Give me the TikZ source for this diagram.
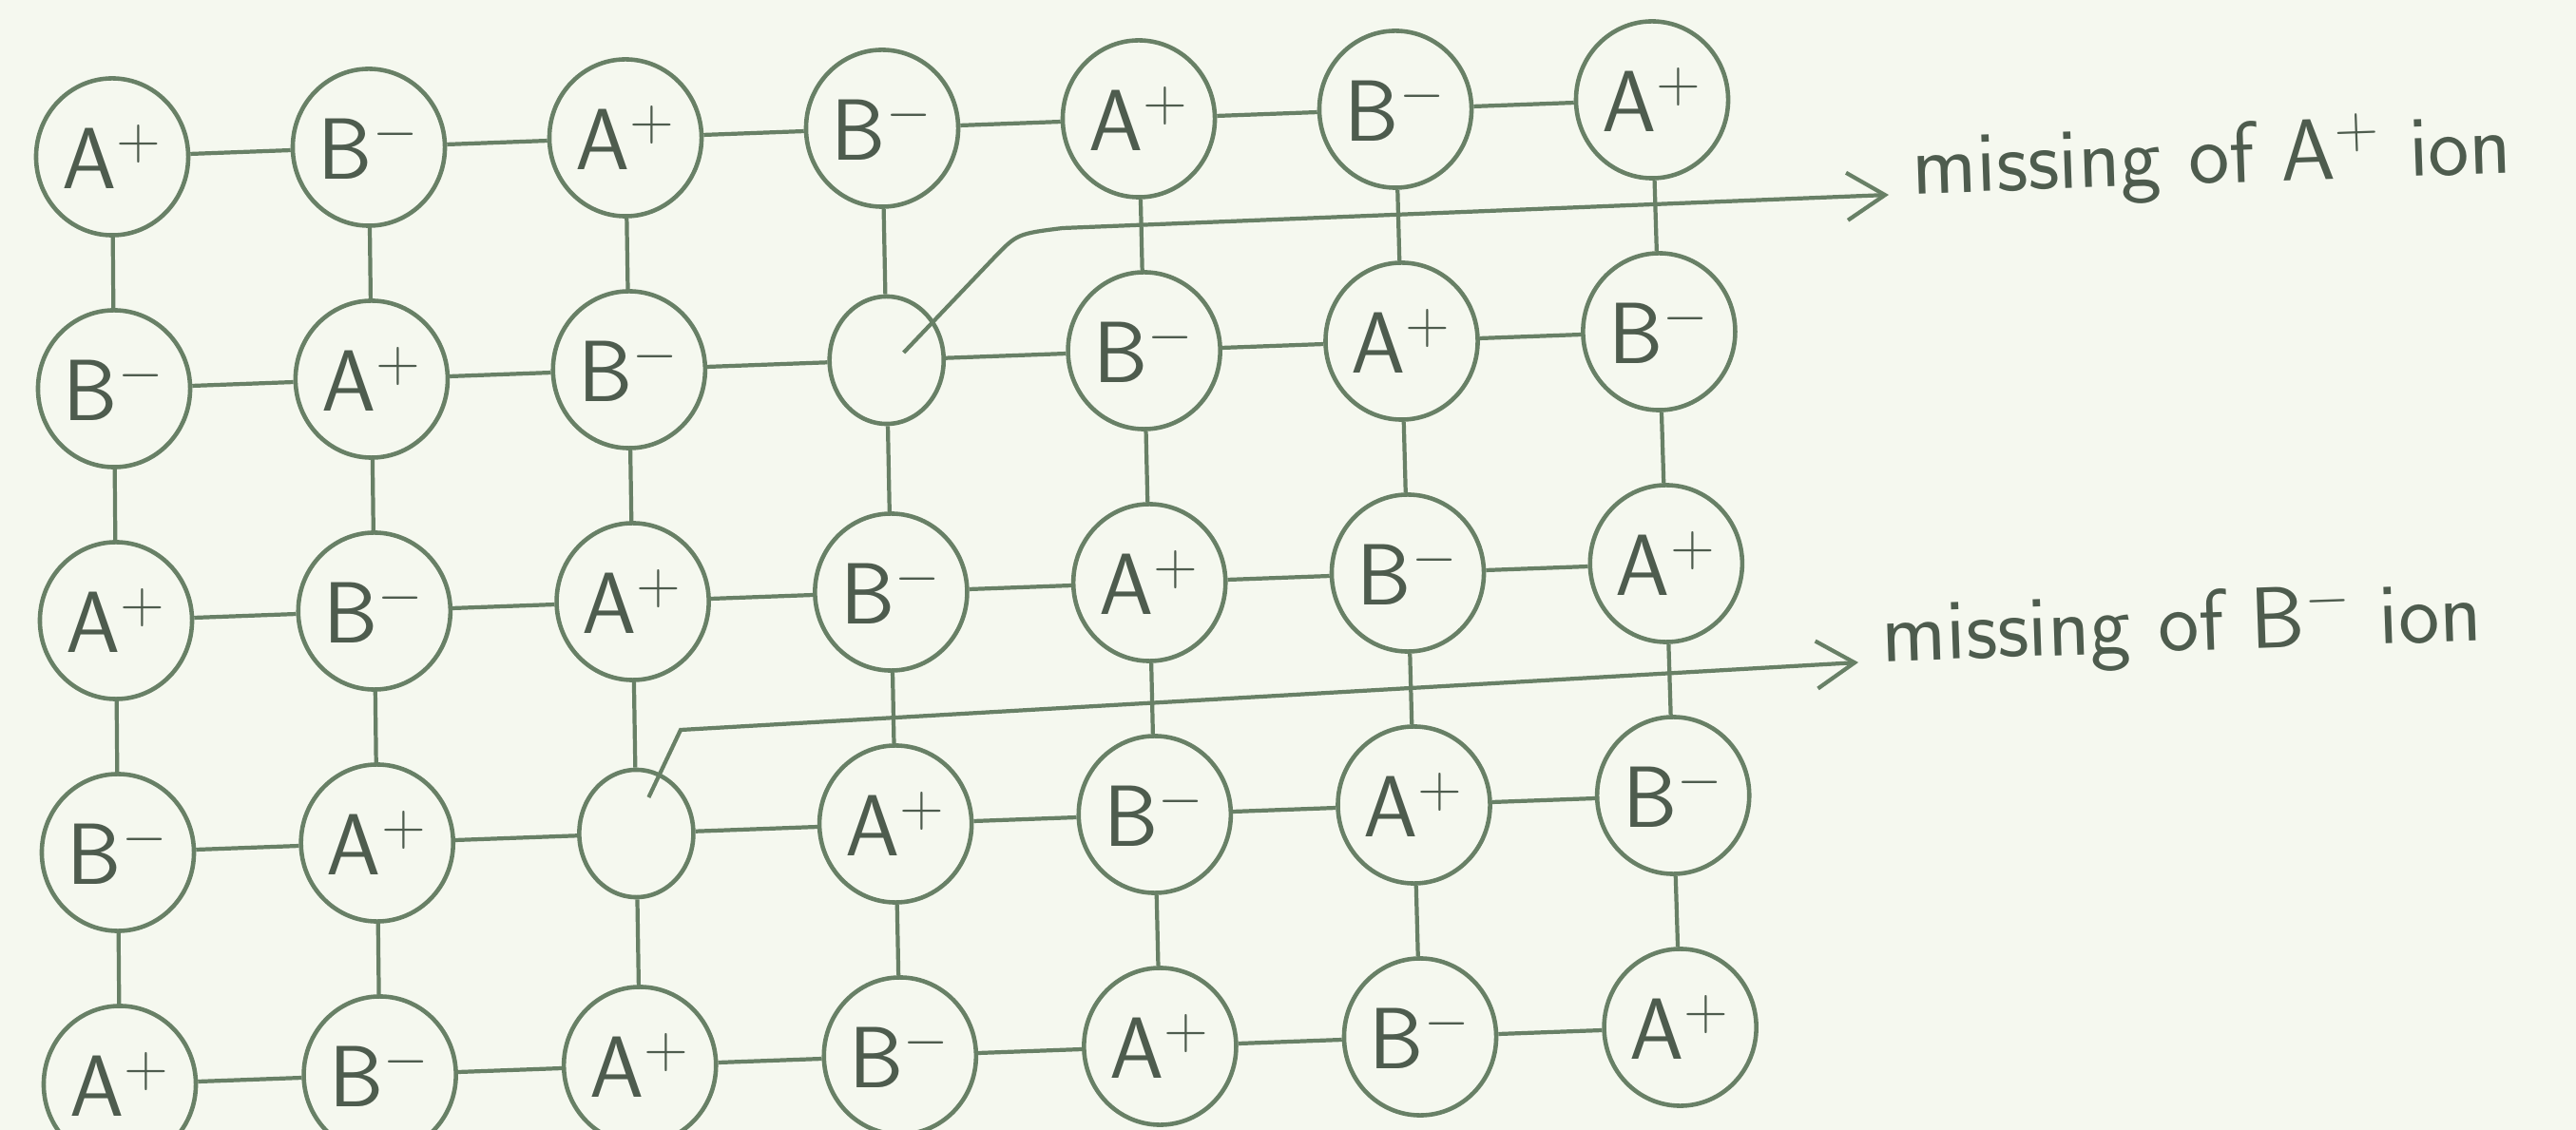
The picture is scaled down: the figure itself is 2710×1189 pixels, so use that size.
\documentclass[tikz,border=0pt]{standalone}
\usetikzlibrary{shapes.geometric,arrows.meta}
\definecolor{paper}{RGB}{245,248,239}
\definecolor{pencil}{RGB}{104,128,102}
\definecolor{ink}{RGB}{78,92,78}
\tikzset{
  ion/.style={ellipse,draw=pencil,line width=1.3pt,minimum width=1.6cm,
    minimum height=1.65cm,inner sep=0pt,text=ink,
    font=\sffamily\fontsize{26}{30}\selectfont},
  hole/.style={ion,minimum width=1.2cm,minimum height=1.34cm},
  bond/.style={draw=pencil,line width=1.2pt},
  arr/.style={bond,-{Straight Barb[length=4mm,width=5mm]}},
  note/.style={anchor=base west,inner xsep=0.25cm,text=ink,rotate=2,
    font=\sffamily\fontsize{26}{30}\selectfont},
}
\begin{document}
\begin{tikzpicture}[x=0.01cm,y=-0.01cm]
  \fill[paper] (0,0) rectangle (2710,1189);
  \useasboundingbox (0,0) rectangle (2710,1189);
  % rede de ions, duas lacunas
  \foreach \r in {0,...,4} {
    \foreach \c in {0,...,6} {
      \pgfmathsetmacro{\px}{118+270*\c+2*\r+0.9*\r*\c}
      \pgfmathsetmacro{\py}{165+244*\r-10*\c}
      \pgfmathtruncatemacro{\vaz}{or(and(\r==1,\c==3),and(\r==3,\c==2))}
      \pgfmathtruncatemacro{\sinal}{mod(\r+\c,2)}
      \ifnum\vaz=1
        \node[hole] (n-\r-\c) at (\px,\py) {};
      \else\ifnum\sinal=0
        \node[ion] (n-\r-\c) at (\px,\py) {A\textsuperscript{+}};
      \else
        \node[ion] (n-\r-\c) at (\px,\py) {B\textsuperscript{$-$}};
      \fi\fi
    }
  }
  % ligacoes nas linhas
  \foreach \r in {0,...,4} {
    \foreach \c in {0,...,5} {
      \pgfmathtruncatemacro{\cc}{\c+1}
      \draw[bond] (n-\r-\c) -- (n-\r-\cc);
    }
  }
  % ligacoes nas colunas
  \foreach \r in {0,...,3} {
    \foreach \c in {0,...,6} {
      \pgfmathtruncatemacro{\rr}{\r+1}
      \draw[bond] (n-\r-\c) -- (n-\rr-\c);
    }
  }
  % lacuna de A+
  \coordinate (s1) at ([shift={(18,-8)}]n-1-3.center);
  \coordinate (k1) at (1045,272);
  \coordinate (k2) at (1118,240);
  \node[note] (lblA) at (1987,205) {missing of A\textsuperscript{+} ion};
  \draw[arr] (s1) -- (k1) .. controls (1070,246) .. (k2) -- (lblA.base west);
  % lacuna de B-
  \coordinate (s2) at ([shift={(13,-38)}]n-3-2.center);
  \coordinate (k3) at (716,768);
  \node[note] (lblB) at (1955,697) {missing of B\textsuperscript{$-$} ion};
  \draw[arr] (s2) -- (k3) -- (lblB.base west);
\end{tikzpicture}
\end{document}
